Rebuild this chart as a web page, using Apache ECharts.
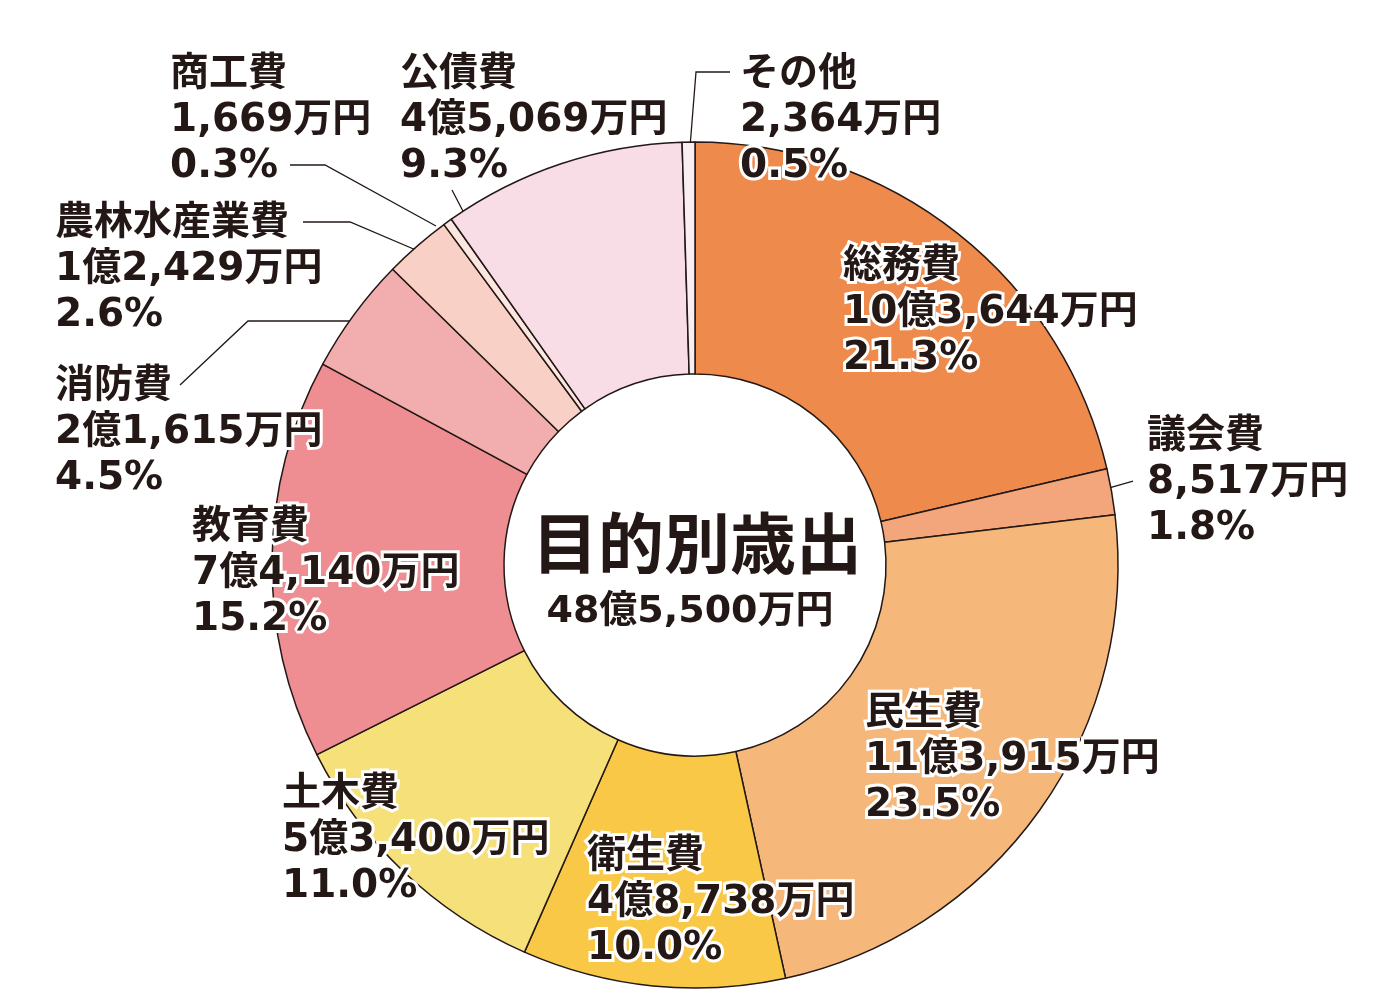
<!DOCTYPE html>
<html>
<head>
<meta charset="utf-8">
<script src="https://cdn.jsdelivr.net/npm/echarts@6/dist/echarts.min.js"></script>
<style>
  html, body { margin: 0; padding: 0; background: #fff; }
  #main { width: 1392px; height: 1008px; }
</style>
</head>
<body>
<div id="main"></div>
<script>
// 目的別歳出 (万円)
const names = ['総務費', '議会費', '民生費', '衛生費', '土木費', '教育費', '消防費', '農林水産業費', '商工費', '公債費', 'その他'];
const values = [103644, 8517, 113915, 48738, 53400, 74140, 21615, 12429, 1669, 45069, 2364];
const percents = ['21.3', '1.8', '23.5', '10.0', '11.0', '15.2', '4.5', '2.6', '0.3', '9.3', '0.5'];
const total = 485500;

const colors = ['#ee8a4c', '#f3a67b', '#f5b87a', '#f8c846', '#f6e07a', '#ef8e92', '#f2aeae', '#f8d0c6', '#fbe6e0', '#f8dde7', '#f9eef2'];

// label block top-left and leader lines (null = label sits on the slice)
const labelPos = [[843, 244], [1147, 414], [865, 691], [587, 834], [282, 772], [192, 505], [55, 364], [55, 201], [170, 52], [400, 52], [740, 52]];
const leaders = [
  null,
  [[1133, 481], [1112, 487], [1090, 493]],
  null, null, null, null,
  [[180, 385], [248, 321], [373, 321]],
  [[303, 222], [350, 222], [430, 256]],
  [[290, 165], [325, 165], [436, 226]],
  [[452, 190], [465, 215], [477, 240]],
  [[730, 72], [696, 72], [690, 147]]
];

function yen(v) {
  const oku = Math.floor(v / 10000);
  const man = (v % 10000).toLocaleString('en-US');
  return (oku > 0 ? oku + '億' : '') + man + '万円';
}

const ink = '#231815';
const font = '"DejaVu Sans", "Noto Sans CJK JP", sans-serif';

const chart = echarts.init(document.getElementById('main'));
chart.setOption({
  backgroundColor: '#fff',
  animation: false,
  graphic: [
    {
      type: 'text',
      style: {
        text: '目的別歳出', x: 697, y: 543, align: 'center', verticalAlign: 'middle',
        font: 'bold 66px "Noto Sans CJK JP", sans-serif', fill: ink
      }
    },
    {
      type: 'text',
      style: {
        text: yen(total), x: 690, y: 612, align: 'center', verticalAlign: 'middle',
        font: 'bold 38px ' + font, fill: ink
      }
    }
  ],
  series: [{
    type: 'pie',
    center: [695, 565],
    radius: [191, 423],
    startAngle: 90,
    clockwise: true,
    avoidLabelOverlap: false,
    itemStyle: { borderColor: ink, borderWidth: 1.5 },
    label: {
      show: true,
      position: 'outside',
      color: ink,
      fontFamily: font,
      fontWeight: 'bold',
      fontSize: 39,
      lineHeight: 46,
      textBorderColor: '#fff',
      textBorderWidth: 6,
      formatter: p => p.name + '\n' + yen(p.value) + '\n' + percents[p.dataIndex] + '%'
    },
    labelLine: { show: true, lineStyle: { color: ink, width: 1.3 } },
    labelLayout: p => {
      const i = p.dataIndex;
      const out = { x: labelPos[i][0], y: labelPos[i][1], align: 'left', verticalAlign: 'top' };
      if (leaders[i]) out.labelLinePoints = leaders[i];
      return out;
    },
    data: names.map((n, i) => ({
      name: n,
      value: values[i],
      itemStyle: { color: colors[i] },
      labelLine: { show: !!leaders[i] }
    }))
  }]
});
</script>
</body>
</html>
